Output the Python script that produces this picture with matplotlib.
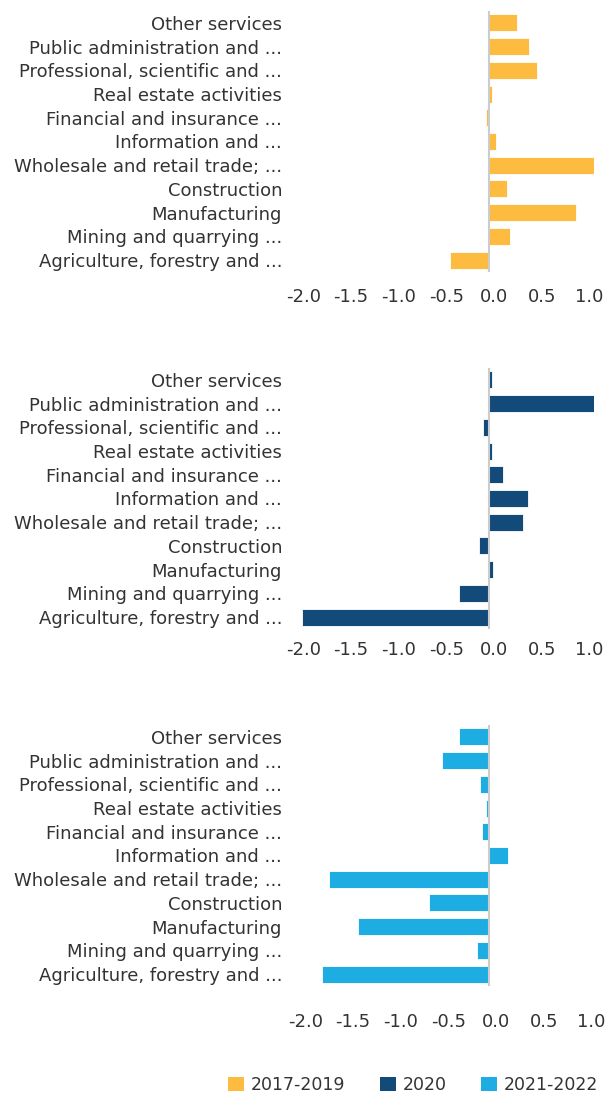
import matplotlib
matplotlib.use("Agg")
import matplotlib.pyplot as plt
from matplotlib.patches import Patch
from matplotlib.transforms import ScaledTranslation

categories = [
    "Other services",
    "Public administration and ...",
    "Professional, scientific and ...",
    "Real estate activities",
    "Financial and insurance ...",
    "Information and ...",
    "Wholesale and retail trade; ...",
    "Construction",
    "Manufacturing",
    "Mining and quarrying ...",
    "Agriculture, forestry and ...",
]
series_names = ["2017-2019", "2020", "2021-2022"]
v_2017_2019 = [0.29, 0.42, 0.50, 0.03, -0.03, 0.07, 1.12, 0.19, 0.91, 0.22, -0.41]
v_2020 = [0.03, 1.10, -0.06, 0.03, 0.15, 0.41, 0.36, -0.11, 0.04, -0.32, -1.96]
v_2021_2022 = [-0.32, -0.50, -0.10, -0.03, -0.07, 0.20, -1.68, -0.63, -1.38, -0.13, -1.75]
xticks = [-2.0, -1.5, -1.0, -0.5, 0.0, 0.5, 1.0]
colors = ["#FDBB3F", "#124A7A", "#1EADE3"]

W, H = 610, 1096
fig = plt.figure(figsize=(W / 100, H / 100), dpi=100)

panels = [(11, 272), (368, 629), (725, 986)]
xpads = [16, 12, 27]
xshift = [5, 5, 7]
left_px, right_px = 289, 594
text_color = "#333333"
fs = 13

for (top, bot), vals, col, pad, sh in zip(panels, [v_2017_2019, v_2020, v_2021_2022], colors, xpads, xshift):
    ax = fig.add_axes([left_px / W, 1 - bot / H, (right_px - left_px) / W, (bot - top) / H])
    ypos = list(range(len(categories)))[::-1]
    ax.barh(ypos, vals, height=0.72, color=col, edgecolor="white", linewidth=0.6, zorder=2)
    ax.axvline(0, color="#cccccc", linewidth=1.5, zorder=3)
    ax.set_xlim(-2.1, 1.1)
    ax.set_ylim(-0.5, len(categories) - 0.5)
    ax.set_yticks(ypos)
    ax.set_yticklabels(categories, fontsize=fs, color=text_color)
    ax.set_xticks(xticks)
    ax.set_xticklabels([f"{t:.1f}" for t in xticks], fontsize=fs, color=text_color)
    ax.tick_params(axis="both", length=0)
    ax.tick_params(axis="x", pad=pad * 0.72)
    ax.tick_params(axis="y", pad=5)
    off = ScaledTranslation(sh / 100, 0, fig.dpi_scale_trans)
    for lab in ax.get_xticklabels():
        lab.set_transform(lab.get_transform() + off)
    for s in ax.spines.values():
        s.set_visible(False)

handles = [Patch(facecolor=c, edgecolor="none") for c in colors]
fig.legend(handles, series_names, loc="center right", bbox_to_anchor=(614 / W, 1 - 1085 / H),
           ncol=3, frameon=False, fontsize=12.5, handlelength=0.9, handleheight=0.9,
           handletextpad=0.4, columnspacing=2.0, labelcolor=text_color)

fig.savefig("out.png", dpi=100)
